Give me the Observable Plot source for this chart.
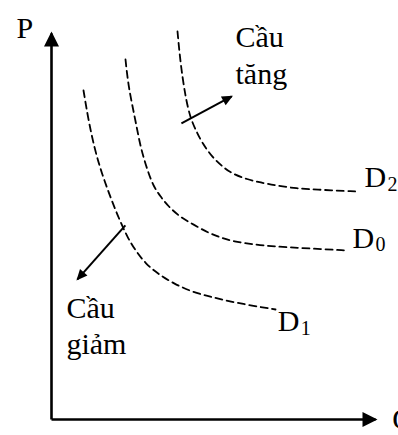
<!DOCTYPE html>
<html><head><meta charset="utf-8">
<script src="https://cdn.jsdelivr.net/npm/d3@7"></script>
<script src="https://cdn.jsdelivr.net/npm/@observablehq/plot@0.6"></script>
<style>
html,body{margin:0;padding:0;background:#fff;}
#chart svg{display:block;}
</style>
</head><body><div id="chart"></div>
<script>
// Demand curves (Q, P)
const seriesNames = ["D2", "D0", "D1"];
const d2Q = [3.889, 3.981, 4.136, 4.290, 4.475, 4.660, 4.969, 5.278, 5.556, 6.049, 6.451, 6.914, 7.593, 8.086, 9.444];
const d2P = [10.052, 9.223, 8.342, 7.798, 7.461, 7.150, 6.788, 6.554, 6.373, 6.218, 6.140, 6.062, 5.984, 5.959, 5.907];
const d0Q = [2.284, 2.377, 2.593, 2.747, 2.963, 3.148, 3.364, 3.580, 3.981, 4.383, 4.815, 5.216, 5.617, 6.235, 6.852, 7.994, 9.136];
const d0P = [9.326, 8.601, 7.746, 7.047, 6.451, 6.036, 5.777, 5.544, 5.233, 5.052, 4.845, 4.715, 4.611, 4.534, 4.482, 4.430, 4.378];
const d1Q = [0.988, 1.142, 1.327, 1.543, 1.821, 2.068, 2.346, 2.593, 2.901, 3.272, 3.765, 4.383, 5.000, 5.617, 6.914];
const d1P = [8.523, 7.746, 7.021, 6.399, 5.751, 5.233, 4.715, 4.378, 4.041, 3.782, 3.523, 3.290, 3.161, 3.031, 2.850];

// Curve labels (D + subscript)
const curveLabelMain = ["D", "D", "D"];
const curveLabelSub = ["2", "0", "1"];
const curveLabelQ = [9.66, 9.29, 6.98];
const curveLabelP = [6.26, 4.70, 2.54];

// Shift arrows
const shiftFromQ = [4.01, 2.28];
const shiftFromP = [7.67, 5.03];
const shiftToQ = [5.56, 0.80];
const shiftToP = [8.37, 3.63];
const shiftText = ["Cầu\ntăng", "Cầu\ngiảm"];
const shiftTextQ = [5.68, 0.46];
const shiftTextP = [10.32, 3.32];

// Axes
const axisQmax = 10, axisPmax = 10;
const axisNames = ["P", "Q"];
const axisNameQ = [-0.82, 10.52];
const axisNameP = [10.12, 0];

const curves = [];
[[d2Q, d2P], [d0Q, d0P], [d1Q, d1P]].forEach(([qs, ps], i) =>
  qs.forEach((q, j) => curves.push({name: seriesNames[i], q, p: ps[j]})));
const curveLabels = curveLabelMain.map((t, i) => ({t, s: curveLabelSub[i], q: curveLabelQ[i], p: curveLabelP[i]}));
const shifts = shiftFromQ.map((q, i) => ({q1: q, p1: shiftFromP[i], q2: shiftToQ[i], p2: shiftToP[i]}));
const shiftLabels = shiftText.map((t, i) => ({t, q: shiftTextQ[i], p: shiftTextP[i]}));
const axes = [{q1: 0, p1: 0, q2: 0, p2: axisPmax}, {q1: 0, p1: 0, q2: axisQmax, p2: 0}];
const axisLabels = axisNames.map((t, i) => ({t, q: axisNameQ[i], p: axisNameP[i]}));

const serif = "'Liberation Serif','Times New Roman',Times,serif";

const svg = Plot.plot({
  width: 398, height: 435,
  marginLeft: 51, marginRight: 23, marginTop: 33, marginBottom: 16,
  x: {domain: [0, axisQmax], axis: null},
  y: {domain: [0, axisPmax], axis: null},
  style: {fontFamily: serif, background: "white", color: "black"},
  marks: [
    Plot.link(axes, {x1: "q1", y1: "p1", x2: "q2", y2: "p2", stroke: "black", strokeWidth: 2.6}),
    Plot.line(curves, {x: "q", y: "p", z: "name", curve: "basis", stroke: "black",
      strokeWidth: 1.8, strokeDasharray: "7,4.5"}),
    Plot.link(shifts, {x1: "q1", y1: "p1", x2: "q2", y2: "p2", stroke: "black", strokeWidth: 2}),
    Plot.text(curveLabels, {x: "q", y: "p", text: "t", textAnchor: "start", lineAnchor: "middle", fontSize: 30, fill: "black"}),
    Plot.text(curveLabels, {x: "q", y: "p", text: "s", textAnchor: "start", lineAnchor: "middle", fontSize: 20, dx: 23, dy: 7, fill: "black"}),
    Plot.text(shiftLabels, {x: "q", y: "p", text: "t", textAnchor: "start", lineAnchor: "top", lineHeight: 1.23, fontSize: 30, fill: "black"}),
    Plot.text(axisLabels.slice(0, 1), {x: "q", y: "p", text: "t", textAnchor: "middle", lineAnchor: "middle", fontSize: 30, fill: "black"}),
    Plot.text(axisLabels.slice(1), {x: "q", y: "p", text: "t", textAnchor: "start", lineAnchor: "middle", fontSize: 30, fill: "black"})
  ]
});

// filled arrowheads
const ns = "http://www.w3.org/2000/svg";
let defs = svg.querySelector("defs");
if (!defs) { defs = document.createElementNS(ns, "defs"); svg.insertBefore(defs, svg.firstChild); }
function addMarker(id, len, half, ext) {
  const m = document.createElementNS(ns, "marker");
  m.setAttribute("id", id);
  m.setAttribute("markerUnits", "userSpaceOnUse");
  m.setAttribute("viewBox", `${-len + ext} ${-half} ${len} ${2 * half}`);
  m.setAttribute("markerWidth", len);
  m.setAttribute("markerHeight", 2 * half);
  m.setAttribute("refX", 0);
  m.setAttribute("refY", 0);
  m.setAttribute("orient", "auto");
  m.setAttribute("overflow", "visible");
  const p = document.createElementNS(ns, "path");
  p.setAttribute("d", `M${-len + ext},${-half}L${ext},0L${-len + ext},${half}Z`);
  p.setAttribute("fill", "black");
  m.appendChild(p);
  defs.appendChild(m);
}
addMarker("axisHead", 15, 7.5, 2);
addMarker("shiftHead", 11, 5, 1.5);
const linkGroups = svg.querySelectorAll('g[aria-label="link"]');
if (linkGroups[0]) linkGroups[0].querySelectorAll("path,line").forEach(e => e.setAttribute("marker-end", "url(#axisHead)"));
if (linkGroups[1]) linkGroups[1].querySelectorAll("path,line").forEach(e => e.setAttribute("marker-end", "url(#shiftHead)"));

document.getElementById("chart").appendChild(svg);
</script>
</body></html>
